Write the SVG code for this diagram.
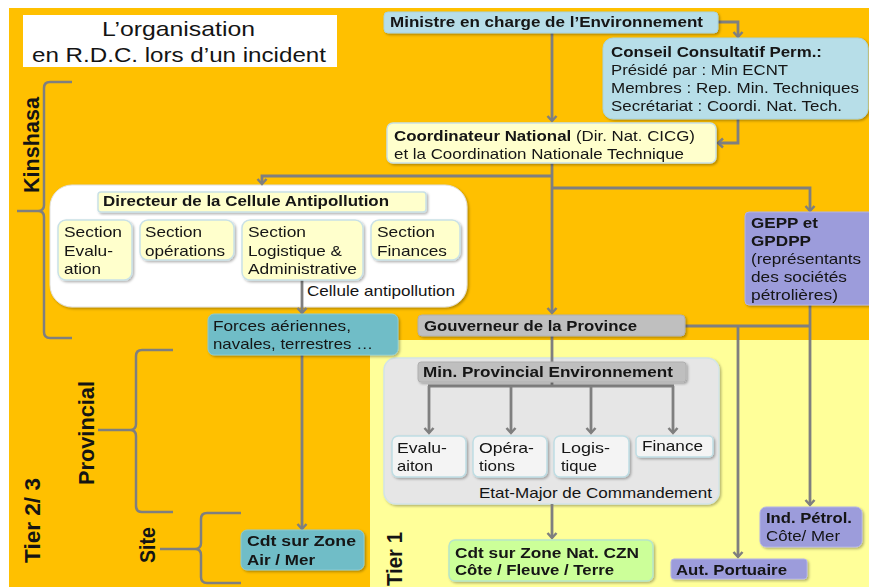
<svg xmlns="http://www.w3.org/2000/svg" width="869" height="587" viewBox="0 0 869 587">
<style>
.t{font-family:"Liberation Sans",Arial,sans-serif;font-size:15px;fill:#141414}
.b{font-weight:bold}
.ttl{font-size:21px}
.rot{font-family:"Liberation Sans",Arial,sans-serif;font-size:22px;font-weight:bold;fill:#141414}
.c{fill:none;stroke:#7F7F7F;stroke-width:2.8}
.br{fill:none;stroke:#7F7F7F;stroke-width:2.5}
.box{filter:url(#sh)}
.lb{fill:#B7DEE8;stroke:#A9D3DD;stroke-width:1}
.ly{fill:#FFFFCC;stroke:#C9E1E6;stroke-width:1.5}
.tl{fill:#6FBDC7;stroke:#8CCAD2;stroke-width:1}
.gr{fill:#BFBFBF;stroke:#B0B0B0;stroke-width:1}
.pu{fill:#9C9CDB;stroke:#B3B3E6;stroke-width:1}
.gn{fill:#CCFF99;stroke:#B7E6C9;stroke-width:1.5}
.wh{fill:#F4F4F4;stroke:#BFDDE3;stroke-width:1.5}
</style>
<defs>
<filter id="sh" x="-10%" y="-10%" width="120%" height="130%">
<feDropShadow dx="1.5" dy="1.5" stdDeviation="1" flood-color="#000" flood-opacity="0.3"/>
</filter>
<marker id="arr" markerUnits="userSpaceOnUse" markerWidth="12" markerHeight="12" refX="6" refY="6" orient="auto">
<path d="M1,1.5 L6,6 L1,10.5" fill="none" stroke="#7F7F7F" stroke-width="2.5"/>
</marker>
</defs>

<rect x="0" y="0" width="869" height="587" fill="#FFFFFF"/>
<rect x="9" y="8" width="860" height="579" fill="#FFC000"/>
<rect x="370" y="340" width="499" height="247" fill="#FFFF99"/>

<g id="title">
<rect x="23" y="15" width="314" height="52" fill="#FFFFFF"/>
<text class="t ttl" x="102" y="36" textLength="153" lengthAdjust="spacingAndGlyphs">L’organisation</text>
<text class="t ttl" x="32" y="62" textLength="294" lengthAdjust="spacingAndGlyphs">en R.D.C. lors d’un incident</text>
</g>

<g id="braces">
<path class="br" d="M72,82 H50 Q44,82 44,88 V205 Q44,211 38,211 H17 M38,211 Q44,211 44,217 V332 Q44,338 50,338 H72"/>
<path class="br" d="M173,350 H142 Q136,350 136,356 V424 Q136,430 130,430 H98 M130,430 Q136,430 136,436 V506 Q136,512 142,512 H173"/>
<path class="br" d="M241,513 H207 Q201,513 201,519 V543 Q201,549 195,549 H160 M195,549 Q201,549 201,555 V577 Q201,583 207,583 H241"/>
</g>

<g id="labels">
<text class="rot" transform="translate(39,193) rotate(-90)" textLength="96" lengthAdjust="spacingAndGlyphs">Kinshasa</text>
<text class="rot" transform="translate(94,485) rotate(-90)" textLength="104" lengthAdjust="spacingAndGlyphs">Provincial</text>
<text class="rot" transform="translate(155,563) rotate(-90)" textLength="36" lengthAdjust="spacingAndGlyphs">Site</text>
<text class="rot" transform="translate(40,563) rotate(-90)" textLength="85" lengthAdjust="spacingAndGlyphs">Tier 2/ 3</text>
<text class="rot" transform="translate(402,586) rotate(-90)" textLength="54" lengthAdjust="spacingAndGlyphs">Tier 1</text>
</g>

<g id="cellule">
<rect class="box" x="50" y="185" width="417" height="122" rx="22" fill="#FFFFFF" stroke="#E0E0E0" stroke-width="1"/>
<text class="t" x="307" y="296" textLength="148" lengthAdjust="spacingAndGlyphs">Cellule antipollution</text>
</g>

<g id="etat-major">
<rect class="box" x="384" y="358" width="335" height="146" rx="12" fill="#E6E6E6" stroke="#D2E4E8" stroke-width="1.5"/>
<text class="t" x="479" y="498" textLength="233" lengthAdjust="spacingAndGlyphs">Etat-Major de Commandement</text>
</g>

<g id="connectors">
<path class="c" d="M552,33 V121" marker-end="url(#arr)"/>
<path class="c" d="M718,22 H738 V37" marker-end="url(#arr)"/>
<path class="c" d="M738,119 V143 H718" marker-end="url(#arr)"/>
<path class="c" d="M552,163 V313" marker-end="url(#arr)"/>
<path class="c" d="M552,176 H262 V184" marker-end="url(#arr)"/>
<path class="c" d="M552,188 H810 V211" marker-end="url(#arr)"/>
<path class="c" d="M302,280 V313" marker-end="url(#arr)"/>
<path class="c" d="M302,355 V529" marker-end="url(#arr)"/>
<path class="c" d="M552,336 V362"/>
<path class="c" d="M552,382 V386 M428,386 H674"/>
<path class="c" d="M429,386 V433" marker-end="url(#arr)"/>
<path class="c" d="M511,386 V433" marker-end="url(#arr)"/>
<path class="c" d="M591,386 V433" marker-end="url(#arr)"/>
<path class="c" d="M673,386 V433" marker-end="url(#arr)"/>
<path class="c" d="M552,504 V538" marker-end="url(#arr)"/>
<path class="c" d="M685,326 H810"/>
<path class="c" d="M810,305 V505" marker-end="url(#arr)"/>
<path class="c" d="M738,326 V557" marker-end="url(#arr)"/>
</g>

<g id="ministre" class="box">
<rect class="lb" x="384" y="12" width="334" height="21" rx="4"/>
<text class="t b" x="390" y="27" textLength="313" lengthAdjust="spacingAndGlyphs">Ministre en charge de l’Environnement</text>
</g>

<g id="conseil" class="box">
<rect class="lb" x="603" y="38" width="265" height="81" rx="10"/>
<text class="t b" x="611" y="57" textLength="211" lengthAdjust="spacingAndGlyphs">Conseil Consultatif Perm.:</text>
<text class="t" x="611" y="75" textLength="177" lengthAdjust="spacingAndGlyphs">Présidé par : Min ECNT</text>
<text class="t" x="611" y="93" textLength="248" lengthAdjust="spacingAndGlyphs">Membres : Rep. Min. Techniques</text>
<text class="t" x="611" y="111" textLength="231" lengthAdjust="spacingAndGlyphs">Secrétariat : Coordi. Nat. Tech.</text>
</g>

<g id="coordinateur" class="box">
<rect class="ly" x="387" y="123" width="329" height="40" rx="6"/>
<text class="t" x="394" y="141" textLength="301" lengthAdjust="spacingAndGlyphs"><tspan class="b">Coordinateur National</tspan> (Dir. Nat. CICG)</text>
<text class="t" x="394" y="159" textLength="290" lengthAdjust="spacingAndGlyphs">et la Coordination Nationale Technique</text>
</g>

<g id="directeur" class="box">
<rect class="ly" x="98" y="192" width="328" height="20" rx="3"/>
<text class="t b" x="103" y="206" textLength="286" lengthAdjust="spacingAndGlyphs">Directeur de la Cellule Antipollution</text>
</g>

<g id="sec-evaluation" class="box">
<rect class="ly" x="58" y="220" width="74" height="60" rx="8"/>
<text class="t" x="64" y="237" textLength="58" lengthAdjust="spacingAndGlyphs">Section</text>
<text class="t" x="64" y="256" textLength="49" lengthAdjust="spacingAndGlyphs">Evalu-</text>
<text class="t" x="64" y="274" textLength="37" lengthAdjust="spacingAndGlyphs">ation</text>
</g>

<g id="sec-operations" class="box">
<rect class="ly" x="140" y="220" width="94" height="40" rx="8"/>
<text class="t" x="145" y="237" textLength="57" lengthAdjust="spacingAndGlyphs">Section</text>
<text class="t" x="145" y="256" textLength="80" lengthAdjust="spacingAndGlyphs">opérations</text>
</g>

<g id="sec-logistique" class="box">
<rect class="ly" x="242" y="220" width="121" height="60" rx="8"/>
<text class="t" x="248" y="237" textLength="58" lengthAdjust="spacingAndGlyphs">Section</text>
<text class="t" x="248" y="256" textLength="94" lengthAdjust="spacingAndGlyphs">Logistique &amp;</text>
<text class="t" x="248" y="274" textLength="109" lengthAdjust="spacingAndGlyphs">Administrative</text>
</g>

<g id="sec-finances" class="box">
<rect class="ly" x="371" y="220" width="89" height="40" rx="8"/>
<text class="t" x="377" y="237" textLength="58" lengthAdjust="spacingAndGlyphs">Section</text>
<text class="t" x="377" y="256" textLength="70" lengthAdjust="spacingAndGlyphs">Finances</text>
</g>

<g id="forces" class="box">
<rect class="tl" x="208" y="314" width="190" height="41" rx="6"/>
<text class="t" x="213" y="331" textLength="138" lengthAdjust="spacingAndGlyphs">Forces aériennes,</text>
<text class="t" x="213" y="349" textLength="160" lengthAdjust="spacingAndGlyphs">navales, terrestres …</text>
</g>

<g id="gepp" class="box">
<rect class="pu" x="745" y="212" width="130" height="93" rx="4"/>
<text class="t b" x="751" y="228" textLength="67" lengthAdjust="spacingAndGlyphs">GEPP et</text>
<text class="t b" x="751" y="246" textLength="60" lengthAdjust="spacingAndGlyphs">GPDPP</text>
<text class="t" x="751" y="264" textLength="110" lengthAdjust="spacingAndGlyphs">(représentants</text>
<text class="t" x="751" y="282" textLength="96" lengthAdjust="spacingAndGlyphs">des sociétés</text>
<text class="t" x="751" y="300" textLength="87" lengthAdjust="spacingAndGlyphs">pétrolières)</text>
</g>

<g id="gouverneur" class="box">
<rect class="gr" x="418" y="315" width="267" height="21" rx="4"/>
<text class="t b" x="424" y="331" textLength="213" lengthAdjust="spacingAndGlyphs">Gouverneur de la Province</text>
</g>

<g id="min-provincial" class="box">
<rect class="gr" x="418" y="362" width="268" height="20" rx="3"/>
<text class="t b" x="423" y="377" textLength="250" lengthAdjust="spacingAndGlyphs">Min. Provincial Environnement</text>
</g>

<g id="evaluaiton" class="box">
<rect class="wh" x="392" y="436" width="74" height="41" rx="6"/>
<text class="t" x="397" y="453" textLength="50" lengthAdjust="spacingAndGlyphs">Evalu-</text>
<text class="t" x="397" y="471" textLength="36" lengthAdjust="spacingAndGlyphs">aiton</text>
</g>

<g id="operations" class="box">
<rect class="wh" x="473" y="436" width="74" height="41" rx="6"/>
<text class="t" x="479" y="453" textLength="55" lengthAdjust="spacingAndGlyphs">Opéra-</text>
<text class="t" x="479" y="471" textLength="36" lengthAdjust="spacingAndGlyphs">tions</text>
</g>

<g id="logistique" class="box">
<rect class="wh" x="554" y="436" width="75" height="41" rx="6"/>
<text class="t" x="561" y="453" textLength="49" lengthAdjust="spacingAndGlyphs">Logis-</text>
<text class="t" x="561" y="471" textLength="36" lengthAdjust="spacingAndGlyphs">tique</text>
</g>

<g id="finance" class="box">
<rect class="wh" x="636" y="436" width="77" height="21" rx="4"/>
<text class="t" x="642" y="451" textLength="61" lengthAdjust="spacingAndGlyphs">Finance</text>
</g>

<g id="czn" class="box">
<rect class="gn" x="449" y="540" width="204" height="41" rx="6"/>
<text class="t b" x="455" y="558" textLength="184" lengthAdjust="spacingAndGlyphs">Cdt sur Zone Nat. CZN</text>
<text class="t b" x="455" y="575" textLength="159" lengthAdjust="spacingAndGlyphs">Côte / Fleuve / Terre</text>
</g>

<g id="aut-portuaire" class="box">
<rect class="pu" x="671" y="559" width="136" height="20" rx="3"/>
<text class="t b" x="676" y="575" textLength="111" lengthAdjust="spacingAndGlyphs">Aut. Portuaire</text>
</g>

<g id="ind-petrol" class="box">
<rect class="pu" x="760" y="507" width="102" height="40" rx="6"/>
<text class="t b" x="766" y="523" textLength="86" lengthAdjust="spacingAndGlyphs">Ind. Pétrol.</text>
<text class="t" x="766" y="541" textLength="74" lengthAdjust="spacingAndGlyphs">Côte/ Mer</text>
</g>

<g id="cdt-air-mer" class="box">
<rect class="tl" x="241" y="530" width="123" height="40" rx="6"/>
<text class="t b" x="247" y="546" textLength="109" lengthAdjust="spacingAndGlyphs">Cdt sur Zone</text>
<text class="t b" x="247" y="565" textLength="68" lengthAdjust="spacingAndGlyphs">Air / Mer</text>
</g>
</svg>
